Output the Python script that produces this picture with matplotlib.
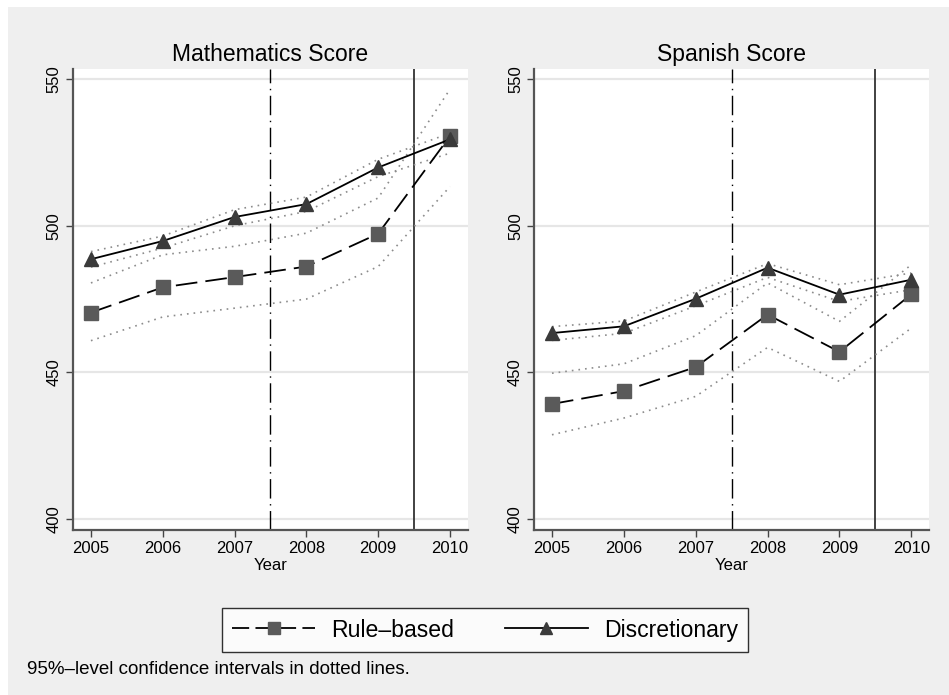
"""Test score trends by school type, with 95% confidence bands."""

import matplotlib.pyplot as plt
from matplotlib.lines import Line2D
from matplotlib.patches import Rectangle

plt.rcParams["font.family"] = ["Liberation Sans", "DejaVu Sans"]

years = [2005, 2006, 2007, 2008, 2009, 2010]

# Mathematics
math_rule = [470.4, 479.0, 482.5, 486.1, 497.3, 530.6]
math_rule_lo = [460.8, 468.9, 471.9, 475.0, 486.1, 513.4]
math_rule_hi = [480.5, 490.1, 493.0, 497.5, 509.5, 546.6]
math_disc = [488.6, 494.8, 503.0, 507.4, 519.9, 529.5]
math_disc_lo = [485.9, 492.4, 500.0, 504.9, 516.8, 524.8]
math_disc_hi = [491.2, 496.5, 505.5, 509.8, 522.7, 531.6]

# Spanish
span_rule = [439.2, 443.6, 451.8, 469.7, 457.0, 476.6]
span_rule_lo = [428.7, 434.4, 441.8, 458.5, 446.9, 465.1]
span_rule_hi = [449.7, 452.9, 462.5, 480.5, 467.4, 486.7]
span_disc = [463.4, 465.7, 475.1, 485.7, 476.5, 481.6]
span_disc_lo = [460.9, 463.3, 472.7, 482.4, 474.2, 478.2]
span_disc_hi = [465.6, 467.5, 477.4, 487.1, 479.9, 483.9]

panel_titles = ["Mathematics Score", "Spanish Score"]
legend_labels = ["Rule\u2013based", "Discretionary"]
footnote = "95%\u2013level confidence intervals in dotted lines."
y_ticks = [400, 450, 500, 550]

BG = "#efefef"
RULE_COLOR = "#5a5a5a"
DISC_COLOR = "#3a3a3a"
CI_COLOR = "#8c8c8c"
DASHES = (12, 4.5)


def plot_panel(ax, title, rule, rule_lo, rule_hi, disc, disc_lo, disc_hi):
    for band in (rule_lo, rule_hi, disc_lo, disc_hi):
        ax.plot(years, band, color=CI_COLOR, linewidth=1.2,
                linestyle=(0, (1, 3)), zorder=2)

    ax.plot(years, rule, color="black", linewidth=1.3, dashes=DASHES,
            marker="s", markersize=9.5, markerfacecolor=RULE_COLOR,
            markeredgecolor=RULE_COLOR, zorder=3)
    ax.plot(years, disc, color="black", linewidth=1.3,
            marker="^", markersize=10.5, markerfacecolor=DISC_COLOR,
            markeredgecolor=DISC_COLOR, zorder=4)

    # reform years
    ax.axvline(2007.5, color="black", linewidth=1.0,
               linestyle=(0, (14, 4, 1, 4)), zorder=1)
    ax.axvline(2009.5, color="#333333", linewidth=1.3, zorder=1)

    ax.set_xlim(2004.75, 2010.25)
    ax.set_ylim(396.2, 553.5)
    ax.set_xticks(years)
    ax.set_yticks(y_ticks)
    ax.set_yticklabels([str(t) for t in y_ticks], rotation=90, va="center")
    ax.tick_params(axis="both", labelsize=12, length=5, width=1.0,
                   color="#444444", pad=3)
    ax.grid(axis="y", color="#e6e6e6", linewidth=1.6, zorder=0)
    ax.set_axisbelow(True)
    for side in ("top", "right"):
        ax.spines[side].set_visible(False)
    for side in ("left", "bottom"):
        ax.spines[side].set_color("#555555")
        ax.spines[side].set_linewidth(1.6)
    ax.set_xlabel("Year", fontsize=12, labelpad=1)
    ax.set_title(title, fontsize=16.5, pad=6)


fig = plt.figure(figsize=(9.49, 6.95), dpi=100, facecolor="white")
fig.patches.append(Rectangle((8 / 949, 0), 1, 1 - 7 / 695, transform=fig.transFigure,
                             facecolor=BG, edgecolor="none", zorder=-10))

ax_math = fig.add_axes([0.0769, 0.2374, 0.4162, 0.6633])
ax_span = fig.add_axes([0.5627, 0.2374, 0.4165, 0.6633])

plot_panel(ax_math, panel_titles[0], math_rule, math_rule_lo, math_rule_hi,
           math_disc, math_disc_lo, math_disc_hi)
plot_panel(ax_span, panel_titles[1], span_rule, span_rule_lo, span_rule_hi,
           span_disc, span_disc_lo, span_disc_hi)

handles = [
    Line2D([], [], color="black", linewidth=1.3, dashes=(9.5, 3.5), marker="s",
           markersize=8, markerfacecolor=RULE_COLOR, markeredgecolor=RULE_COLOR),
    Line2D([], [], color="black", linewidth=1.3, marker="^", markersize=9,
           markerfacecolor=DISC_COLOR, markeredgecolor=DISC_COLOR),
]
leg = fig.legend(handles, legend_labels, loc="center", bbox_to_anchor=(0.511, 0.0935),
                 ncol=2, fontsize=16.6, frameon=True, fancybox=False,
                 handlelength=3.6, handletextpad=0.7, columnspacing=2.2,
                 borderpad=0.45)
leg.get_frame().set_edgecolor("black")
leg.get_frame().set_linewidth(1.0)
leg.get_frame().set_facecolor("white")

fig.text(0.0285, 0.037, footnote, fontsize=13.5, va="center", ha="left")

fig.savefig("out.png", dpi=100, facecolor=fig.get_facecolor())
plt.close(fig)
